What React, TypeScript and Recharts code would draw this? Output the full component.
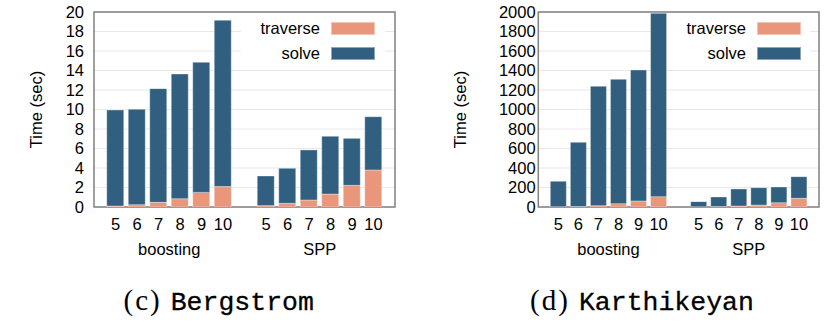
import React from 'react';
import { BarChart, Bar, XAxis, YAxis, CartesianGrid, ReferenceArea, Legend } from 'recharts';

const CATEGORIES = ['5', '6', '7', '8', '9', '10'];
const GROUPS = ['boosting', 'SPP'];
const SERIES = [
  { key: 'traverse', name: 'traverse', color: '#e9967a' },
  { key: 'solve', name: 'solve', color: '#305f80' },
];

// (c) Bergstrom
const bergBoostingTraverse = [0.1, 0.24, 0.48, 0.85, 1.5, 2.09];
const bergBoostingSolve = [9.85, 9.78, 11.66, 12.79, 13.34, 17.06];
const bergSppTraverse = [0.14, 0.38, 0.72, 1.33, 2.22, 3.8];
const bergSppSolve = [3.04, 3.59, 5.13, 5.92, 4.82, 5.46];
const bergYTicks = [0, 2, 4, 6, 8, 10, 12, 14, 16, 18, 20];

// (d) Karthikeyan
const karBoostingTraverse = [3, 5, 14, 34, 62, 106];
const karBoostingSolve = [260, 658, 1224, 1275, 1343, 1880];
const karSppTraverse = [2, 4, 10, 20, 44, 89];
const karSppSolve = [53, 99, 175, 178, 161, 222];
const karYTicks = [0, 200, 400, 600, 800, 1000, 1200, 1400, 1600, 1800, 2000];

const CAPTION_TAGS = ['(c)', '(d)'];
const CAPTION_NAMES = ['Bergstrom', 'Karthikeyan'];
const Y_TITLE = 'Time (sec)';

const SANS = '"Liberation Sans", Arial, Helvetica, sans-serif';
const SERIF = '"Liberation Serif", "DejaVu Serif", serif';
const MONO = '"Liberation Mono", "DejaVu Sans Mono", monospace';
const FS = 16.5;

type Row = { pos: number; label: string; group: string; traverse: number; solve: number };

const SLOT = CATEGORIES.length + 1;

function buildRows(groupsData: { traverse: number[]; solve: number[] }[]): Row[] {
  const rows: Row[] = [];
  groupsData.forEach((g, gi) => {
    CATEGORIES.forEach((c, i) => {
      rows.push({ pos: gi * SLOT + i, label: c, group: GROUPS[gi], traverse: g.traverse[i], solve: g.solve[i] });
    });
  });
  return rows;
}

const bergRows = buildRows([
  { traverse: bergBoostingTraverse, solve: bergBoostingSolve },
  { traverse: bergSppTraverse, solve: bergSppSolve },
]);
const karRows = buildRows([
  { traverse: karBoostingTraverse, solve: karBoostingSolve },
  { traverse: karSppTraverse, solve: karSppSolve },
]);

type PanelProps = {
  data: Row[];
  yTicks: number[];
  chartWidth: number;
  yAxisWidth: number;
  marginRight: number;
  tickMargin: number;
  barSize: number;
  labelX: number;
  legendLeft: number;
  legendWidth: number;
};

function LegendBox() {
  return (
    <div style={{ position: 'relative', width: '100%', height: '100%', background: '#fff' }}>
      {SERIES.map((s, i) => (
        <div
          key={s.key}
          style={{ position: 'absolute', left: 0, top: 8.5 + i * 25.3, height: 13, display: 'flex', alignItems: 'center' }}
        >
          <div style={{ width: 79, textAlign: 'right', fontFamily: SANS, fontSize: FS, lineHeight: '13px', color: '#000' }}>
            {s.name}
          </div>
          <div
            style={{
              marginLeft: 11,
              width: 44,
              height: 13,
              boxSizing: 'border-box',
              background: s.color,
              border: '1px solid rgba(255,255,255,0.45)',
            }}
          />
        </div>
      ))}
    </div>
  );
}

function Panel(p: PanelProps) {
  const xDomain: [number, number] = [-1, GROUPS.length * SLOT - 1];
  const xTicks = p.data.map((d) => d.pos);
  const groupTicks = GROUPS.map((_, gi) => gi * SLOT + (CATEGORIES.length - 1) / 2);
  const yDomain: [number, number] = [0, p.yTicks[p.yTicks.length - 1]];
  const tickStyle = { fontFamily: SANS, fontSize: FS, fill: '#000' };
  return (
    <BarChart
      width={p.chartWidth}
      height={260}
      data={p.data}
      margin={{ top: 12, right: p.marginRight, bottom: 0, left: 0 }}
    >
      <CartesianGrid vertical={false} stroke="#e8e8e8" strokeWidth={1} />
      <XAxis
        dataKey="pos"
        type="number"
        domain={xDomain}
        allowDataOverflow
        ticks={xTicks}
        interval={0}
        tickFormatter={(v: number) => {
          const r = p.data.find((d) => d.pos === v);
          return r ? r.label : '';
        }}
        axisLine={false}
        tickLine={false}
        tickSize={0}
        tickMargin={11}
        height={30}
        tick={tickStyle}
      />
      <XAxis
        xAxisId="g"
        dataKey="pos"
        type="number"
        domain={xDomain}
        allowDataOverflow
        ticks={groupTicks}
        interval={0}
        tickFormatter={(v: number) => GROUPS[groupTicks.indexOf(v)] ?? ''}
        axisLine={false}
        tickLine={false}
        tickSize={0}
        tickMargin={6}
        height={23}
        tick={tickStyle}
      />
      <YAxis
        domain={yDomain}
        allowDataOverflow
        ticks={p.yTicks}
        interval={0}
        width={p.yAxisWidth}
        axisLine={false}
        tickLine={false}
        tickSize={0}
        tickMargin={p.tickMargin}
        tick={tickStyle}
        label={{
          content: (lp: any) => {
            const vb = lp.viewBox || { x: 0, y: 12, width: p.yAxisWidth, height: 195 };
            const cx = vb.x + p.labelX;
            const cy = vb.y + vb.height / 2;
            return (
              <text
                x={cx}
                y={cy}
                transform={`rotate(-90 ${cx} ${cy})`}
                textAnchor="middle"
                dominantBaseline="central"
                fontFamily={SANS}
                fontSize={FS}
                fill="#000"
              >
                {Y_TITLE}
              </text>
            );
          },
        }}
      />
      <YAxis
        yAxisId="tl"
        orientation="left"
        mirror
        domain={yDomain}
        allowDataOverflow
        ticks={p.yTicks}
        interval={0}
        tick={false}
        tickSize={3}
        axisLine={false}
        tickLine={{ stroke: '#444', strokeWidth: 1 }}
      />
      <YAxis
        yAxisId="tr"
        orientation="right"
        mirror
        domain={yDomain}
        allowDataOverflow
        ticks={p.yTicks}
        interval={0}
        tick={false}
        tickSize={3}
        axisLine={false}
        tickLine={{ stroke: '#444', strokeWidth: 1 }}
      />
      {SERIES.map((s) => (
        <Bar
          key={s.key}
          dataKey={s.key}
          name={s.name}
          stackId="t"
          fill={s.color}
          stroke="#ffffff"
          strokeOpacity={0.35}
          strokeWidth={1}
          barSize={p.barSize}
          isAnimationActive={false}
        />
      ))}
      <ReferenceArea
        x1={xDomain[0]}
        x2={xDomain[1]}
        y1={yDomain[0]}
        y2={yDomain[1]}
        fill="none"
        fillOpacity={0}
        stroke="#808080"
        strokeWidth={1.5}
        ifOverflow="visible"
      />
      <Legend
        layout="horizontal"
        verticalAlign="middle"
        align="center"
        content={() => <LegendBox />}
        wrapperStyle={{ left: p.legendLeft, top: 13, width: p.legendWidth, height: 51, bottom: 'auto', right: 'auto' }}
      />
    </BarChart>
  );
}

export default function App() {
  const captionX = [218.7, 642];
  return (
    <div style={{ position: 'absolute', left: 0, top: 0, width: 831, height: 321, background: '#fff' }}>
      <svg width={831} height={321} style={{ position: 'absolute', left: 0, top: 0 }}>
        {CAPTION_TAGS.map((tag, i) => (
          <text key={tag} x={captionX[i]} y={310} textAnchor="middle" fill="#000">
            <tspan fontFamily={SERIF} fontSize={29} letterSpacing={2}>
              {tag}
            </tspan>
            <tspan dx={9} fontFamily={MONO} fontSize={26.5} stroke="#000" strokeWidth={0.3}>
              {CAPTION_NAMES[i]}
            </tspan>
          </text>
        ))}
      </svg>
      <div style={{ position: 'absolute', left: 0, top: 0 }}>
        <Panel
          data={bergRows}
          yTicks={bergYTicks}
          chartWidth={415}
          yAxisWidth={94}
          marginRight={20}
          tickMargin={10}
          barSize={17}
          labelX={36}
          legendLeft={241}
          legendWidth={144}
        />
      </div>
      <div style={{ position: 'absolute', left: 415, top: 0 }}>
        <Panel
          data={karRows}
          yTicks={karYTicks}
          chartWidth={416}
          yAxisWidth={123.3}
          marginRight={12}
          tickMargin={2.7}
          barSize={16}
          labelX={44.7}
          legendLeft={252}
          legendWidth={143}
        />
      </div>
    </div>
  );
}
